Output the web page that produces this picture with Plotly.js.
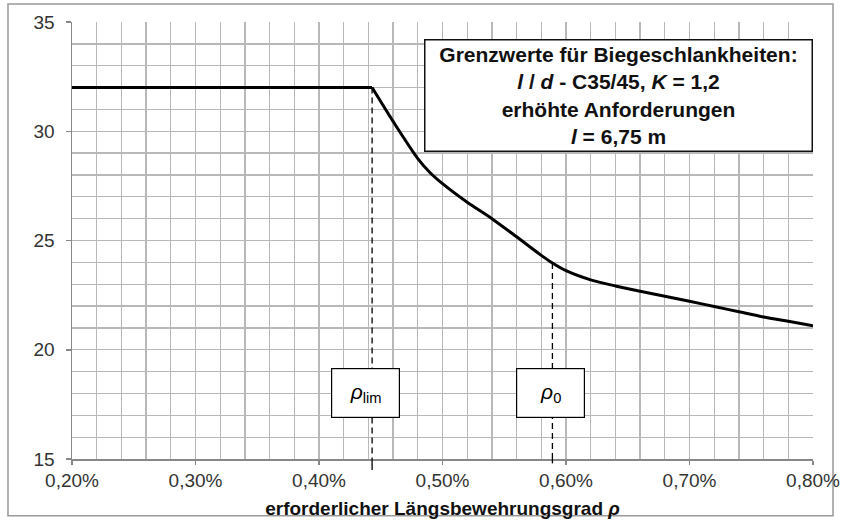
<!DOCTYPE html>
<html>
<head>
<meta charset="utf-8">
<script src="https://cdn.plot.ly/plotly-3.0.1.min.js"></script>
<style>html,body{margin:0;padding:0;background:#fff;}#chart{width:841px;height:521px;}</style>
</head>
<body>
<div id="chart"></div>
<script>
// Data (x in %, y = l/d)
var rhoFlat = [0.20, 0.443];
var slendernessFlat = [32.0, 32.0];
var rhoCurve = [0.443, 0.46, 0.48, 0.49, 0.50, 0.52, 0.54, 0.56, 0.58, 0.589, 0.60, 0.62, 0.64, 0.66, 0.68, 0.70, 0.72, 0.74, 0.76, 0.78, 0.80];
var slendernessCurve = [32.0, 30.45, 28.75, 28.1, 27.6, 26.75, 26.0, 25.17, 24.32, 23.97, 23.62, 23.2, 22.92, 22.68, 22.45, 22.22, 21.98, 21.74, 21.5, 21.3, 21.1];

var xTickVals = [0.2, 0.3, 0.4, 0.5, 0.6, 0.7, 0.8];
var xTickText = ['0,20%', '0,30%', '0,40%', '0,50%', '0,60%', '0,70%', '0,80%'];
var yTickVals = [15, 20, 25, 30, 35];

var markerX = [0.443, 0.589];
var markerTop = [32.0, 23.97];
var markerLabels = ['<i>ρ</i><sub>lim</sub>', '<i>ρ</i><sub>0</sub>'];

var infoText = '<b>Grenzwerte für Biegeschlankheiten:<br><i>l</i> / <i>d</i> - C35/45, <i>K</i> = 1,2<br>erhöhte Anforderungen<br><i>l</i> = 6,75 m</b>';
var xTitle = '<b>erforderlicher Längsbewehrungsgrad <i>ρ</i></b>';

var traces = [{
  x: rhoFlat, y: slendernessFlat, type: 'scatter', mode: 'lines',
  line: {color: '#000', width: 3}, hoverinfo: 'skip', showlegend: false
}, {
  x: rhoCurve, y: slendernessCurve, type: 'scatter', mode: 'lines',
  line: {color: '#000', width: 3, shape: 'spline', smoothing: 0.8}, hoverinfo: 'skip', showlegend: false
}];

var shapes = [];
var annotations = [];
for (var i = 0; i < markerX.length; i++) {
  shapes.push({type: 'line', xref: 'x', yref: 'y', x0: markerX[i], x1: markerX[i], y0: markerTop[i], y1: 15,
    line: {color: '#000', width: 1.3, dash: '6px,4px'}, layer: 'above'});
  shapes.push({type: 'line', xref: 'x', yref: 'paper', x0: markerX[i], x1: markerX[i], y0: 0, y1: i === 0 ? -0.025 : -0.01,
    line: {color: '#000', width: 1.3}, layer: 'above'});
  annotations.push({xref: 'x', yref: 'y', x: markerX[i], y: 18, text: markerLabels[i], showarrow: false,
    xshift: i === 0 ? -7 : -2,
    font: {family: 'Liberation Sans, Arial, sans-serif', size: 21, color: '#000'},
    bgcolor: '#fff', bordercolor: '#000', borderwidth: 1.2, borderpad: 0, width: 67, height: 48});
}
annotations.push({xref: 'paper', yref: 'paper', x: 0.737, y: 0.832, xanchor: 'center', yanchor: 'middle',
  text: infoText, showarrow: false, align: 'center',
  font: {family: 'Liberation Sans, Arial, sans-serif', size: 21, color: '#111'},
  bgcolor: '#fff', bordercolor: '#111', borderwidth: 1.5, borderpad: 1, width: 384, height: 108});

// outer frame
shapes.push({type: 'rect', xref: 'paper', yref: 'paper', x0: -0.0864, x1: 1.027, y0: -0.130, y1: 1.041,
  line: {color: '#999', width: 1.5}, layer: 'below'});

var layout = {
  width: 841, height: 521,
  margin: {l: 72, r: 28, t: 22, b: 62},
  paper_bgcolor: '#fff', plot_bgcolor: '#fff',
  font: {family: 'Liberation Sans, Arial, sans-serif', size: 19, color: '#333'},
  xaxis: {
    range: [0.2, 0.8], tickmode: 'array', tickvals: xTickVals, ticktext: xTickText,
    ticks: 'outside', ticklen: 4, tickcolor: '#888', tickwidth: 1.5,
    showgrid: true, gridcolor: '#b8b8b8', gridwidth: 1.3,
    minor: {dtick: 0.02, showgrid: true, gridcolor: '#b8b8b8', gridwidth: 1.3},
    showline: true, linecolor: '#888', linewidth: 1.5, zeroline: false,
    tickfont: {size: 19, color: '#333'},
    title: {text: xTitle, font: {size: 19, color: '#111'}, standoff: 11}
  },
  yaxis: {
    range: [15, 35], tickmode: 'array', tickvals: yTickVals,
    ticks: 'outside', ticklen: 5, tickcolor: '#888', tickwidth: 1.5, ticklabelstandoff: 7,
    showgrid: true, gridcolor: '#b8b8b8', gridwidth: 1.3,
    minor: {dtick: 1, showgrid: true, gridcolor: '#b8b8b8', gridwidth: 1.3},
    showline: true, linecolor: '#888', linewidth: 1.5, zeroline: false,
    tickfont: {size: 19, color: '#333'}
  },
  shapes: shapes,
  annotations: annotations,
  showlegend: false
};

Plotly.newPlot('chart', traces, layout, {displayModeBar: false, staticPlot: true});
</script>
</body>
</html>
